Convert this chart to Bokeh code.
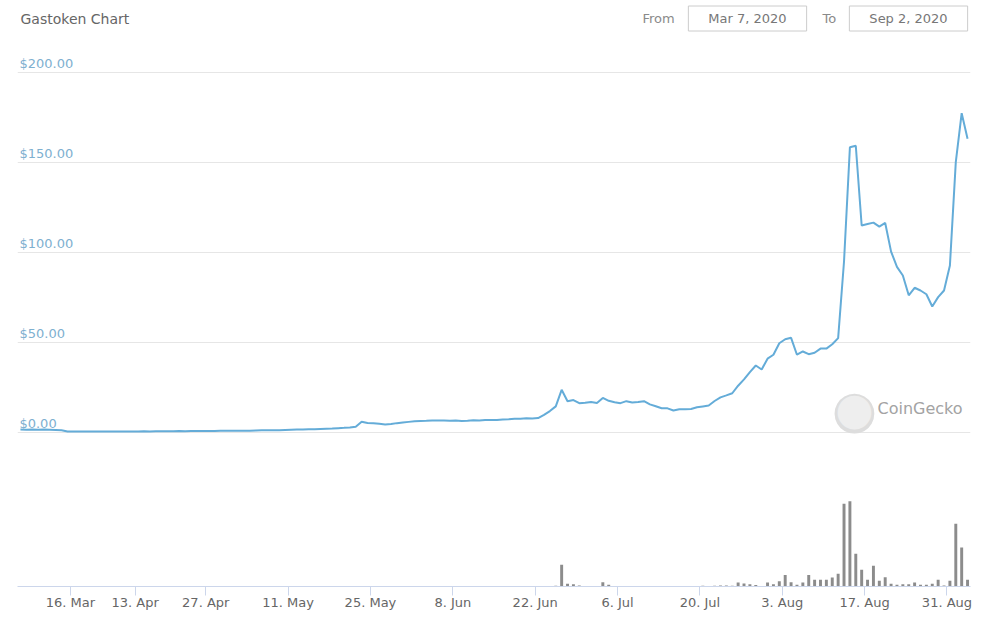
from datetime import date, timedelta

from bokeh.plotting import figure
from bokeh.models import Range1d, FixedTicker, Label, ColumnDataSource
from bokeh.core.properties import value
from bokeh.embed import file_html
from bokeh.resources import INLINE

# ---------------- data ----------------
# sparse early period (the source uses an ordinal axis: points are evenly spaced)
early_dates = [
    "2020-03-07", "2020-03-08", "2020-03-09", "2020-03-10", "2020-03-11",
    "2020-03-12", "2020-03-13", "2020-03-14", "2020-03-15", "2020-03-16",
    "2020-03-18", "2020-03-20", "2020-03-23", "2020-03-25", "2020-03-27",
    "2020-03-30", "2020-04-01", "2020-04-04", "2020-04-07", "2020-04-10",
    "2020-04-13", "2020-04-14", "2020-04-15", "2020-04-16", "2020-04-17",
    "2020-04-19", "2020-04-20", "2020-04-21", "2020-04-22", "2020-04-23",
    "2020-04-25", "2020-04-26",
]
early_prices = [
    1.6, 1.5, 1.6, 1.5, 1.6, 1.5, 1.4, 1.2, 0.6, 0.5,
    0.5, 0.5, 0.5, 0.5, 0.5, 0.5, 0.6, 0.6, 0.6, 0.6,
    0.6, 0.7, 0.6, 0.7, 0.7, 0.7, 0.7, 0.8, 0.7, 0.8, 0.8, 0.8,
]
early_volumes = [
    1500, 1200, 1400, 1100, 1300, 1000, 1200, 900, 800, 700,
    600, 700, 500, 600, 700, 500, 600, 800, 700, 600,
    700, 800, 600, 700, 900, 800, 700, 900, 800, 1000, 900, 800,
]

# daily data from 27 Apr 2020 onwards
daily_start = "2020-04-27"
daily_prices = [
    0.8, 0.8, 0.9, 0.9, 0.9, 1.0, 1.0, 1.0, 1.1, 1.2,
    1.2, 1.3, 1.3, 1.4, 1.5, 1.6, 1.7, 1.8, 1.8, 2.0,
    2.1, 2.2, 2.4, 2.6, 2.8, 3.2, 6.0, 5.3, 5.1, 4.8,
    4.5, 4.7, 5.2, 5.6, 5.9, 6.2, 6.4, 6.5, 6.7, 6.6,
    6.6, 6.5, 6.6, 6.4, 6.5, 6.8, 6.6, 6.9, 7.0, 6.9,
    7.2, 7.3, 7.6, 7.7, 7.9, 7.8, 8.0, 9.8, 11.9, 14.5,
    23.7, 17.4, 18.0, 16.3, 16.5, 17.0, 16.4, 19.2, 17.6, 16.8,
    16.3, 17.4, 16.7, 16.9, 17.4, 15.6, 14.6, 13.5, 13.4, 12.2,
    12.9, 12.9, 13.1, 14.0, 14.5, 15.0, 17.5, 19.5, 20.6, 21.8,
    26.0, 29.5, 33.5, 37.2, 35.0, 41.0, 43.2, 49.6, 51.8, 52.6,
    43.2, 45.0, 43.5, 44.3, 46.6, 46.6, 49.0, 52.4, 95.0, 158.5,
    159.3, 115.0, 115.8, 116.6, 114.4, 116.4, 100.5, 92.0, 87.2, 76.2,
    80.4, 78.9, 76.8, 70.0, 75.2, 78.9, 92.8, 150.2, 177.4, 163.2,
]
daily_volumes = [
    800, 600, 900, 700, 1000, 800, 1200, 900, 1100, 1300,
    1000, 1400, 1200, 1500, 1300, 1600, 1400, 1800, 1500, 1700,
    2000, 1800, 2200, 2500, 2100, 2400, 6000, 3000, 2500, 2200,
    2000, 2300, 2600, 2400, 2800, 2500, 2700, 2600, 3000, 2800,
    2500, 2700, 2900, 2600, 3100, 2800, 3000, 2700, 3200, 2900,
    3000, 3300, 3100, 3500, 3200, 3600, 4000, 3500, 5000, 7000,
    217000, 27000, 23000, 10000, 5000, 4000, 6000, 43000, 17000, 5000,
    4000, 3000, 3500, 4000, 3000, 3500, 3000, 2500, 3000, 3500,
    4000, 5000, 4500, 6000, 7000, 6000, 8000, 10000, 9000, 8000,
    40000, 30000, 23000, 15000, 4000, 40000, 23000, 52000, 115000, 42000,
    18000, 40000, 115000, 67000, 67000, 67000, 90000, 127000, 827000, 853000,
    327000, 167000, 67000, 207000, 57000, 93000, 27000, 17000, 23000, 23000,
    40000, 17000, 17000, 27000, 67000, 10000, 57000, 627000, 390000, 67000,
]

price_ticks = [0, 50, 100, 150, 200]
tick_dates = [
    "2020-03-16", "2020-04-13", "2020-04-27", "2020-05-11", "2020-05-25",
    "2020-06-08", "2020-06-22", "2020-07-06", "2020-07-20", "2020-08-03",
    "2020-08-17", "2020-08-31",
]
tick_labels = [
    "16. Mar", "13. Apr", "27. Apr", "11. May", "25. May", "8. Jun",
    "22. Jun", "6. Jul", "20. Jul", "3. Aug", "17. Aug", "31. Aug",
]
range_from = "Mar 7, 2020"
range_to = "Sep 2, 2020"

# ---------------- build ordinal series ----------------
d0 = date.fromisoformat(daily_start)
daily_dates = [(d0 + timedelta(days=k)).isoformat() for k in range(len(daily_prices))]
all_dates = early_dates + daily_dates
prices = early_prices + daily_prices
volumes = early_volumes + daily_volumes
idx = list(range(len(all_dates)))

src = ColumnDataSource(data=dict(x=idx, price=prices, vol=volumes, date=all_dates))

# ---------------- figure ----------------
LINE = "#64acd8"
AXIS_C = "#ccd6eb"
FONT = "DejaVu Sans"

p = figure(
    width=980, height=626,
    output_backend="svg", toolbar_location=None, title=None,
    y_axis_location=None,
    x_range=Range1d(-0.5, len(idx) - 0.5),
    y_range=Range1d(-85.56, 240.0),
    min_border_left=17, min_border_right=10, min_border_top=0, min_border_bottom=40,
)
p.outline_line_color = None
p.background_fill_color = "white"
p.border_fill_color = "white"
p.xgrid.visible = False

# horizontal grid for the price pane only
p.ygrid.ticker = FixedTicker(ticks=price_ticks)
p.ygrid.grid_line_color = "#e6e6e6"
p.ygrid.grid_line_width = 1

p.extra_y_ranges = {"vol": Range1d(0, 5_860_000)}

# volume bars
p.vbar(x="x", top="vol", bottom=0, width=0.5, source=src, y_range_name="vol",
       fill_color="#8c8c8c", line_color=None)

# price line
p.line(x="x", y="price", source=src, line_color=LINE, line_width=2)

# price labels sitting on the grid lines
p.text(x=[idx[0]] * len(price_ticks), y=price_ticks,
       text=[f"${t:,.2f}" for t in price_ticks],
       text_font=value(FONT), text_font_size="13px", text_color="#7eb0d0",
       text_baseline="bottom", text_align="left", x_offset=-1, y_offset=-1)

# x axis with ordinal ticks (between daily points)
tick_pos = [all_dates.index(d) - 0.5 for d in tick_dates]
xa = p.xaxis[0]
xa.ticker = FixedTicker(ticks=tick_pos, minor_ticks=[])
xa.major_label_overrides = {t: lab for t, lab in zip(tick_pos, tick_labels)}
xa.axis_line_color = AXIS_C
xa.major_tick_line_color = AXIS_C
xa.major_tick_in = 0
xa.major_tick_out = 9
xa.minor_tick_line_color = None
xa.major_label_standoff = -1
xa.major_label_text_font = FONT
xa.major_label_text_font_size = "13px"
xa.major_label_text_color = "#666666"

# header: title and date range boxes (frame-relative screen units)
p.add_layout(Label(x=3, y=568, x_units="screen", y_units="screen",
                   text="Gastoken Chart", text_font=FONT, text_font_size="14px",
                   text_color="#666666", text_baseline="middle"))
p.add_layout(Label(x=625, y=568, x_units="screen", y_units="screen",
                   text="From", text_font=FONT, text_font_size="13px",
                   text_color="#8a8a8a", text_baseline="middle"))
p.add_layout(Label(x=730, y=568, x_units="screen", y_units="screen",
                   text=range_from, text_font=FONT, text_font_size="13px",
                   text_color="#777777", text_baseline="middle", text_align="center",
                   background_fill_color="white", border_line_color="#cccccc",
                   padding=dict(left=20, right=20, top=5, bottom=5)))
p.add_layout(Label(x=805, y=568, x_units="screen", y_units="screen",
                   text="To", text_font=FONT, text_font_size="13px",
                   text_color="#8a8a8a", text_baseline="middle"))
p.add_layout(Label(x=891, y=568, x_units="screen", y_units="screen",
                   text=range_to, text_font=FONT, text_font_size="13px",
                   text_color="#777777", text_baseline="middle", text_align="center",
                   background_fill_color="white", border_line_color="#cccccc",
                   padding=dict(left=20, right=20, top=5, bottom=5)))

# CoinGecko watermark
p.add_layout(Label(x=837, y=178, x_units="screen", y_units="screen",
                   text="\u25cf", text_font=FONT, text_font_size="52px",
                   text_color="#dddddd", text_baseline="middle", text_align="center"))
p.add_layout(Label(x=837, y=178, x_units="screen", y_units="screen",
                   text="\u25cf", text_font=FONT, text_font_size="44px",
                   text_color="#eeeeee", text_baseline="middle", text_align="center"))
p.add_layout(Label(x=860, y=178, x_units="screen", y_units="screen",
                   text="CoinGecko", text_font=FONT, text_font_size="16px",
                   text_color="#a3a3a3", text_baseline="middle"))

open("out.html", "w").write(file_html(p, INLINE))
